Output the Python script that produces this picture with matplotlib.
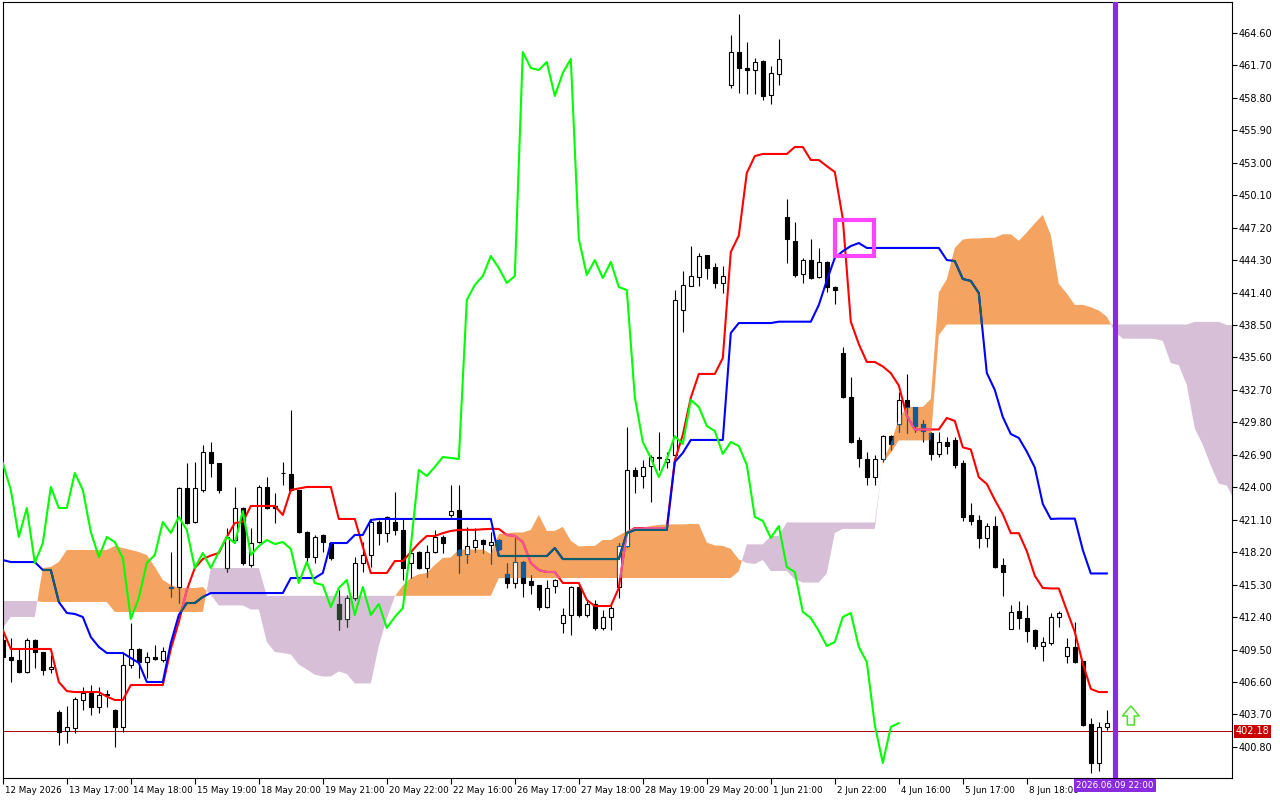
# Ichimoku H1 chart, MT4 look: candles + tenkan/kijun/chikou + cloud

import numpy as np
import matplotlib
matplotlib.use("Agg")
import matplotlib.pyplot as plt
from matplotlib.path import Path
from matplotlib.patches import Rectangle, Polygon
from matplotlib.collections import LineCollection
from matplotlib.transforms import ScaledTranslation, blended_transform_factory

# ========= data =========
opens = [
    410.35, 408.83, 408.57, 407.49, 410.35, 409.28, 407.76, 403.92, 402.22, 402.49,
    404.99, 405.62, 404.37, 405.40, 404.10, 402.58, 408.12, 409.55, 408.39, 408.83,
    408.57, 415.00, 415.09, 423.94, 420.90, 423.76, 427.16, 426.17, 416.79, 419.29,
    422.15, 417.06, 419.11, 424.03, 422.33, 425.30, 425.19, 423.76, 420.01, 417.77,
    419.74, 419.02, 413.57, 412.23, 414.11, 417.24, 417.95, 420.90, 419.92, 420.90,
    420.19, 417.24, 418.22, 416.79, 418.22, 419.56, 421.53, 421.97, 418.04, 418.66,
    419.29, 418.84, 419.29, 416.25, 415.45, 417.33, 415.63, 415.27, 413.30, 415.18,
    411.87, 412.59, 415.09, 412.59, 413.57, 411.43, 412.41, 415.09, 418.75, 425.55,
    425.01, 425.90, 426.71, 426.26, 426.89, 439.84, 441.99, 442.79, 444.76, 443.69,
    442.26, 459.95, 462.90, 461.47, 461.29, 462.10, 459.06, 460.94, 448.16, 446.01,
    443.06, 444.31, 442.79, 444.14, 441.90, 436.00, 432.07, 428.23, 426.53, 424.92,
    426.53, 428.58, 429.66, 431.80, 431.18, 429.66, 428.85, 426.98, 428.05, 428.23,
    426.17, 421.53, 421.08, 419.47, 420.54, 417.06, 411.34, 412.94, 412.32, 411.25,
    409.82, 410.08, 412.41, 408.92, 409.73, 408.48, 402.85, 399.36, 402.58,
]
highs = [
    410.98, 410.53, 409.64, 410.53, 410.40, 409.30, 409.01, 404.10, 404.46, 405.26,
    406.15, 406.33, 406.15, 405.88, 404.15, 409.19, 411.87, 409.64, 409.28, 409.91,
    409.73, 418.22, 424.00, 426.17, 426.26, 427.78, 428.05, 426.20, 420.36, 424.03,
    422.24, 420.36, 424.21, 424.92, 423.49, 426.26, 430.91, 423.80, 420.05, 419.74,
    419.80, 419.11, 414.82, 414.37, 417.77, 419.11, 421.08, 421.08, 421.40, 423.58,
    421.26, 418.22, 418.30, 418.84, 420.19, 419.74, 424.21, 424.21, 420.45, 420.36,
    419.38, 420.01, 419.35, 417.24, 419.47, 417.40, 416.16, 415.30, 415.72, 415.80,
    413.21, 415.15, 415.27, 413.93, 413.93, 413.03, 413.66, 419.02, 429.39, 425.82,
    426.44, 426.89, 428.94, 427.16, 441.63, 443.33, 445.57, 444.94, 444.80, 444.05,
    443.78, 464.42, 466.30, 463.80, 462.37, 462.19, 461.65, 464.06, 449.76, 447.71,
    444.49, 446.19, 445.39, 444.20, 441.99, 436.54, 433.86, 428.50, 427.16, 426.89,
    428.67, 428.67, 432.52, 434.13, 431.20, 430.01, 428.94, 428.94, 428.49, 428.49,
    426.40, 422.60, 421.53, 420.81, 421.44, 417.68, 413.48, 413.84, 413.48, 411.34,
    410.62, 412.77, 412.94, 410.53, 411.96, 408.50, 403.38, 403.02, 404.10,
]
lows = [
    408.30, 406.60, 407.40, 407.40, 407.85, 407.23, 407.40, 400.97, 401.15, 402.04,
    404.10, 403.65, 403.83, 404.37, 400.79, 402.13, 407.85, 406.96, 406.96, 408.57,
    408.39, 414.20, 413.66, 420.75, 420.81, 423.58, 424.92, 423.49, 416.43, 419.02,
    417.06, 416.88, 419.02, 422.10, 420.81, 424.21, 423.70, 419.95, 417.24, 417.24,
    418.22, 417.50, 411.25, 411.51, 413.93, 416.43, 416.88, 418.84, 419.11, 419.74,
    415.72, 415.89, 416.70, 415.98, 418.13, 418.13, 421.35, 416.34, 417.24, 418.22,
    418.13, 417.15, 418.40, 415.00, 415.00, 414.20, 414.46, 413.03, 413.21, 414.55,
    410.98, 410.80, 412.41, 412.41, 411.25, 411.25, 411.25, 414.11, 418.66, 423.49,
    423.94, 422.69, 425.55, 425.73, 426.44, 437.88, 441.95, 441.99, 442.62, 441.81,
    441.36, 459.69, 459.24, 459.15, 459.15, 458.61, 458.26, 459.95, 444.05, 442.79,
    442.26, 442.65, 442.70, 441.45, 440.38, 431.98, 428.00, 425.81, 424.21, 424.21,
    426.26, 427.33, 428.94, 428.85, 428.94, 428.05, 426.44, 426.71, 426.98, 425.73,
    421.00, 420.63, 418.57, 418.66, 416.80, 414.29, 411.30, 411.34, 410.17, 409.55,
    408.48, 409.91, 411.51, 408.30, 408.30, 402.67, 398.47, 398.65, 402.31,
]
closes = [
    408.83, 408.57, 407.49, 410.35, 409.28, 407.67, 407.94, 402.13, 402.58, 405.08,
    405.62, 404.37, 405.44, 405.50, 402.58, 408.12, 409.55, 408.39, 408.83, 408.66,
    409.37, 415.10, 423.94, 420.81, 423.94, 427.16, 426.17, 423.76, 419.56, 422.15,
    417.24, 419.02, 424.03, 422.15, 422.15, 425.28, 423.76, 420.01, 417.77, 419.56,
    419.11, 417.68, 412.23, 414.11, 417.24, 417.95, 420.90, 419.92, 421.35, 420.19,
    416.79, 418.13, 416.79, 418.22, 419.56, 419.02, 421.88, 417.95, 418.75, 419.29,
    418.93, 419.11, 418.49, 415.45, 417.33, 415.45, 415.27, 413.30, 415.00, 415.72,
    412.59, 415.09, 412.59, 413.57, 411.43, 412.41, 413.21, 418.75, 425.55, 425.01,
    425.82, 426.71, 426.62, 426.53, 440.74, 442.08, 442.88, 444.67, 443.60, 442.26,
    442.88, 462.90, 461.47, 461.29, 462.01, 458.97, 461.03, 462.28, 446.19, 442.97,
    444.31, 442.70, 444.14, 441.90, 441.63, 432.07, 428.05, 426.62, 424.92, 426.53,
    428.58, 427.87, 431.80, 431.18, 429.48, 429.03, 426.98, 428.05, 427.69, 426.00,
    421.35, 421.00, 419.47, 420.54, 416.88, 416.43, 412.86, 412.32, 411.16, 409.82,
    410.17, 412.41, 412.77, 409.73, 408.39, 402.76, 399.36, 402.58, 402.93,
]

tenkan = [
    411.25, 409.55, 409.55, 409.55, 409.55, 409.55, 409.55, 406.60, 405.79, 405.70,
    405.70, 405.70, 405.70, 405.30, 404.99, 404.99, 406.33, 406.33, 406.33, 406.33,
    406.33, 409.55, 411.96, 414.82, 416.79, 417.59, 417.90, 418.13, 419.56, 420.81,
    420.90, 422.33, 422.33, 422.33, 422.33, 421.53, 423.76, 423.90, 424.03, 424.03,
    424.03, 424.03, 421.17, 421.17, 421.17, 418.70, 416.34, 416.34, 416.34, 417.41,
    417.41, 418.20, 419.00, 419.65, 419.65, 419.90, 420.10, 420.19, 420.20, 420.20,
    420.25, 420.28, 420.28, 419.74, 419.65, 419.11, 417.24, 416.60, 416.43, 416.43,
    415.45, 415.45, 415.45, 413.93, 413.39, 413.39, 413.39, 415.00, 419.92, 420.36,
    420.36, 420.36, 420.36, 420.36, 426.40, 428.70, 432.00, 434.13, 434.13, 434.13,
    435.55, 445.03, 446.50, 452.09, 453.60, 453.79, 453.79, 453.79, 453.79, 454.41,
    454.41, 453.25, 453.25, 452.70, 452.18, 448.00, 438.80, 436.80, 435.20, 435.20,
    434.80, 434.20, 433.10, 430.40, 429.17, 429.17, 429.17, 429.17, 430.20, 429.93,
    427.57, 427.38, 424.90, 424.30, 422.87, 421.60, 419.90, 419.90, 418.30, 416.10,
    415.00, 414.96, 414.96, 413.00, 411.07, 408.26, 405.98, 405.70, 405.70,
]
kijun = [
    417.50, 417.32, 417.32, 417.32, 417.32, 416.61, 416.61, 413.75, 412.77, 412.68,
    412.41, 410.62, 409.73, 409.19, 409.19, 409.19, 408.74, 408.30, 406.60, 406.60,
    406.60, 410.08, 412.59, 413.66, 413.66, 414.20, 414.55, 414.55, 414.55, 414.55,
    414.55, 414.55, 414.55, 414.55, 414.55, 414.55, 415.89, 415.89, 415.89, 415.89,
    416.34, 419.02, 419.02, 419.02, 419.74, 419.74, 421.08, 421.17, 421.17, 421.17,
    421.17, 421.17, 421.17, 421.17, 421.17, 421.17, 421.17, 421.17, 421.17, 421.17,
    421.17, 421.17, 417.86, 417.86, 417.86, 417.86, 417.86, 417.86, 417.86, 418.57,
    417.59, 417.59, 417.59, 417.59, 417.59, 417.59, 417.59, 417.59, 419.92, 420.19,
    420.19, 420.19, 420.19, 420.19, 426.26, 427.07, 428.23, 428.23, 428.23, 428.23,
    428.23, 437.79, 438.68, 438.68, 438.68, 438.68, 438.68, 438.80, 438.80, 438.80,
    438.80, 438.80, 440.29, 442.48, 444.50, 445.10, 445.56, 445.83, 445.39, 445.39,
    445.39, 445.39, 445.39, 445.39, 445.39, 445.39, 445.39, 445.39, 444.31, 444.22,
    442.62, 442.44, 441.36, 434.22, 432.70, 430.28, 428.76, 428.41, 427.19, 425.77,
    422.51, 421.17, 421.20, 421.20, 421.20, 418.40, 416.30, 416.30, 416.30,
]

# cloud edges, one value per bar slot (runs 16 slots past the last bar)
senkou_a = [
    411.43, 412.41, 412.41, 412.41, 412.41, 416.79, 416.88, 417.32, 418.40, 418.40,
    418.40, 418.40, 418.40, 418.40, 418.75, 418.57, 418.40, 418.22, 417.95, 416.88,
    415.72, 415.27, 415.00, 415.00, 415.00, 415.09, 414.38, 413.44, 413.44, 413.44,
    413.44, 413.08, 413.08, 410.18, 409.28, 409.19, 409.06, 408.16, 407.72, 407.25,
    407.09, 407.09, 407.54, 407.32, 406.47, 406.47, 406.47, 409.82, 412.28, 414.24,
    415.23, 415.90, 416.23, 416.34, 417.06, 417.68, 417.73, 418.44, 418.44, 418.44,
    418.44, 418.04, 419.83, 419.90, 419.96, 419.96, 420.19, 421.53, 420.10, 420.10,
    420.46, 419.22, 418.71, 418.76, 418.76, 419.29, 419.29, 419.69, 420.09, 420.41,
    420.41, 420.54, 420.64, 420.68, 420.69, 420.69, 420.71, 420.73, 419.07, 418.80,
    418.76, 418.49, 417.55, 417.23, 417.15, 417.50, 416.52, 416.52, 416.52, 415.76,
    415.49, 415.49, 415.49, 416.30, 419.92, 420.28, 420.28, 420.28, 420.28, 420.28,
    426.33, 427.89, 430.12, 431.18, 431.18, 431.18, 431.89, 441.41, 442.59, 445.39,
    446.14, 446.24, 446.24, 446.30, 446.30, 446.61, 446.61, 446.03, 446.77, 447.59,
    448.34, 446.55, 442.18, 441.32, 440.30, 440.30, 440.10, 439.80, 439.25, 437.90,
    437.28, 437.28, 437.28, 437.28, 437.26, 437.08, 435.10, 434.91, 433.13, 429.26,
    427.79, 425.94, 424.33, 424.16, 422.75,
]
senkou_b = (
    [413.84] * 5 + [413.75] * 9 + [412.86] * 12 + [416.79] * 7 + [414.30] * 29
    + [415.89] * 30 + [416.50] + [418.90] * 3 + [419.65] * 2 + [420.86] * 12
    + [426.20, 427.07] + [428.19] * 5 + [437.60] + [438.55] * 31 + [438.78] * 4
    + [438.50] * 2
)

bid = 402.18
future_bar = 139                      # purple time marker 2026.06.09 22:00
signal_bar, signal_price = 141, 404.46  # green up arrow
box_bars = (104.0, 108.9)             # magenta box
box_prices = (444.67, 447.89)

time_labels = [
    "12 May 2026", "13 May 17:00", "14 May 18:00", "15 May 19:00", "18 May 20:00",
    "19 May 21:00", "20 May 22:00", "22 May 16:00", "26 May 17:00", "27 May 18:00",
    "28 May 19:00", "29 May 20:00", "1 Jun 21:00", "2 Jun 22:00", "4 Jun 16:00",
    "5 Jun 17:00", "8 Jun 18:00",
]
price_ticks = [
    400.80, 403.70, 406.60, 409.50, 412.40, 415.30, 418.20, 421.10, 424.00, 426.90,
    429.80, 432.70, 435.60, 438.50, 441.40, 444.30, 447.20, 450.10, 453.00, 455.90,
    458.80, 461.70, 464.60,
]

# ========= colours =========
ORANGE = "#f4a460"
THISTLE = "#d8bfd8"
IN_ORANGE = "#0f5c9c"     # black candle parts seen through the orange cloud
IN_THISTLE = "#2c3c2e"
KIJUN_IN = "#115e68"
TENKAN_IN = "#f0579b"

fig = plt.figure(figsize=(12.8, 8), dpi=100)
ax = fig.add_axes([2.5 / 1280, 22 / 800, 1229.5 / 1280, 776 / 800])
ax.set_facecolor("white")

o = np.array(opens)
h = np.array(highs)
l = np.array(lows)
c = np.array(closes)
n = len(o)
x = np.arange(n)

a = np.array(senkou_a)
b = np.array(senkou_b)
xc = np.arange(len(a))

cloud_up = ax.fill_between(xc, a, b, where=a >= b, interpolate=True,
                           color=ORANGE, lw=0, zorder=1)
cloud_dn = ax.fill_between(xc, a, b, where=a < b, interpolate=True,
                           color=THISTLE, lw=0, zorder=1)
up_path = Path.make_compound_path(*cloud_up.get_paths())
dn_path = Path.make_compound_path(*cloud_dn.get_paths())

ax.axhline(bid, color="#a80000", lw=0.7, zorder=1.5)


def draw_candles(dark, clip=None, z=2.0):
    segs = [[(i, lo), (i, hi)] for i, lo, hi in zip(x, l, h)]
    lc = LineCollection(segs, colors=dark, linewidths=0.8, zorder=z)
    ax.add_collection(lc)
    bull = c >= o
    bottom = np.minimum(o, c)
    height = np.abs(c - o)
    b1 = ax.bar(x[bull], height[bull], bottom=bottom[bull], width=0.55,
                facecolor="white", edgecolor=dark, lw=0.8, zorder=z + 0.1)
    b2 = ax.bar(x[~bull], height[~bull], bottom=bottom[~bull], width=0.55,
                facecolor=dark, edgecolor=dark, lw=0.8, zorder=z + 0.1)
    if clip is not None:
        lc.set_clip_path(clip, ax.transData)
        for p in list(b1) + list(b2):
            p.set_clip_path(clip, ax.transData)


draw_candles("black")
draw_candles(IN_ORANGE, up_path, 2.3)
draw_candles(IN_THISTLE, dn_path, 2.3)

# lines
ax.plot(x, tenkan, color="#ff0000", lw=1.5, zorder=3)
ax.plot(x, kijun, color="#0000ff", lw=1.5, zorder=3.1)
ln, = ax.plot(x, tenkan, color=TENKAN_IN, lw=1.5, zorder=3.2)
ln.set_clip_path(up_path, ax.transData)
ln, = ax.plot(x, kijun, color=KIJUN_IN, lw=1.5, zorder=3.3)
ln.set_clip_path(up_path, ax.transData)
ax.plot(x[:n - 26], c[26:], color="#00ff00", lw=1.5, zorder=3.5)

# objects
ax.axvline(future_bar, color="#8a2be2", lw=3.7, zorder=5)
ax.add_patch(Rectangle((box_bars[0], box_prices[0]), box_bars[1] - box_bars[0],
                       box_prices[1] - box_prices[0], fill=False,
                       ec="#ff44ff", lw=3, zorder=6))
sx, tip = signal_bar, signal_price
neck, base, hw, sw = tip - 0.9, tip - 1.7, 1.06, 0.44
arrow = [(sx, tip), (sx + hw, neck), (sx + sw, neck), (sx + sw, base),
         (sx - sw, base), (sx - sw, neck), (sx - hw, neck)]
ax.add_patch(Polygon(arrow, closed=True, fc="#f2fff0", ec="#55dd33",
                     lw=1.1, zorder=6))

# axes
ax.set_xlim(-0.04, 153.65)
ax.set_ylim(398.02, 467.37)

ax.yaxis.tick_right()
ax.set_yticks(price_ticks)
ax.set_yticklabels([f"{v:.2f}" for v in price_ticks])
ax.tick_params(axis="y", direction="out", length=3.5, width=0.8, pad=1.5,
               labelsize=7, colors="black")

ax.set_xticks(np.arange(len(time_labels)) * 8)
ax.set_xticklabels(time_labels, ha="left")
ax.tick_params(axis="x", direction="out", length=4, width=0.8, pad=1.5,
               labelsize=6.3, colors="black")
shift = ScaledTranslation(2 / 100, 0, fig.dpi_scale_trans)
for lab in ax.get_xticklabels():
    lab.set_transform(lab.get_transform() + shift)

for sp in ax.spines.values():
    sp.set_color("black")
    sp.set_linewidth(0.8)

ax.text(1.003, bid, f"{bid:.2f}", transform=blended_transform_factory(ax.transAxes, ax.transData),
        ha="left", va="center", color="white", fontsize=7, clip_on=False, zorder=7,
        bbox=dict(boxstyle="square,pad=0.15", fc="#c80000", ec="none"))
ax.text(future_bar, -0.004, "2026.06.09 22:00",
        transform=blended_transform_factory(ax.transData, ax.transAxes),
        ha="center", va="top", color="white", fontsize=6.3, clip_on=False, zorder=7,
        bbox=dict(boxstyle="square,pad=0.25", fc="#8a2be2", ec="none"))

fig.savefig("out.png", dpi=100)
